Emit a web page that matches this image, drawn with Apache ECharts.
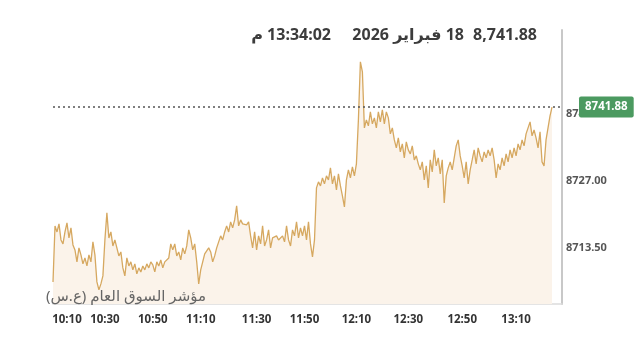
<!DOCTYPE html>
<html>
<head>
<meta charset="utf-8">
<script src="https://cdn.jsdelivr.net/npm/echarts@6/dist/echarts.min.js"></script>
<style>
html,body{margin:0;padding:0;background:#fff;}
#c{width:640px;height:349px;}
</style>
</head>
<body>
<div id="c"></div>
<script>
// ---- data ----
const times = [
"10:03","10:04","10:05","10:06","10:07","10:08","10:09",
"10:10","10:11","10:12","10:13","10:14","10:15","10:16","10:17","10:18","10:20","10:21","10:22","10:23","10:24","10:25","10:26","10:27","10:28","10:29",
"10:30","10:31","10:32","10:33","10:33","10:34","10:35","10:36","10:37","10:38","10:38","10:39","10:40","10:41","10:42","10:43","10:43","10:44","10:45","10:46","10:47","10:48","10:48","10:49",
"10:50","10:51","10:52","10:52","10:53","10:54","10:55","10:56","10:57","10:57","10:58","10:59","11:00","11:01","11:02","11:02","11:03","11:04","11:05","11:06","11:07","11:07","11:08","11:09",
"11:10","11:11","11:11","11:12","11:13","11:13","11:14","11:15","11:15","11:16","11:17","11:18","11:18","11:19","11:20","11:21","11:21","11:22","11:23","11:24","11:24","11:25","11:26","11:26","11:27","11:28","11:28","11:29",
"11:30","11:31","11:32","11:33","11:33","11:34","11:35","11:36","11:37","11:38","11:38","11:39","11:40","11:41","11:42","11:43","11:43","11:44","11:45","11:46","11:47","11:48","11:48","11:49",
"11:50","11:51","11:51","11:52","11:53","11:54","11:54","11:55","11:56","11:57","11:57","11:58","11:59","12:00","12:00","12:01","12:02","12:03","12:03","12:04","12:05","12:06","12:06","12:07","12:08","12:09",
"12:10","12:11","12:11","12:12","12:13","12:14","12:14","12:15","12:16","12:17","12:17","12:18","12:19","12:20","12:20","12:21","12:22","12:23","12:23","12:24","12:25","12:26","12:26","12:27","12:28","12:29",
"12:30","12:31","12:31","12:32","12:33","12:33","12:34","12:35","12:36","12:36","12:37","12:38","12:39","12:39","12:40","12:41","12:42","12:42","12:43","12:44","12:45","12:45","12:46","12:47","12:48","12:48","12:49",
"12:50","12:51","12:51","12:52","12:53","12:53","12:54","12:55","12:56","12:56","12:57","12:58","12:59","12:59","13:00","13:01","13:02","13:02","13:03","13:04","13:05","13:05","13:06","13:07","13:08","13:08","13:09",
"13:10","13:11","13:12","13:14","13:15","13:16","13:18","13:19","13:20","13:21","13:23","13:24","13:25","13:27","13:28","13:29","13:31","13:32","13:34",
"","","","",""
];

const values = [
8706.65,8717.93,8716.72,8718.34,8715.11,8714.31,8716.72,8718.54,8715.51,8717.53,
8714.10,8713.10,8710.68,8713.50,8712.09,8710.28,8711.48,8709.87,8712.09,8710.68,
8714.71,8712.09,8706.65,8705.04,8706.25,8707.86,8715.11,8720.55,8715.51,8716.72,
8713.90,8715.11,8713.50,8711.89,8712.69,8709.47,8707.86,8711.48,8709.87,8710.68,
8709.07,8710.28,8708.26,8709.47,8708.66,8709.87,8709.07,8710.28,8709.47,8710.68,
8710.07,8708.66,8710.68,8709.87,8711.08,8709.47,8710.68,8710.28,8711.48,8714.31,
8713.10,8714.31,8711.89,8712.69,8711.08,8713.50,8712.29,8713.90,8717.13,8715.51,
8713.10,8714.31,8710.68,8706.25,8709.07,8710.68,8712.29,8711.89,8713.50,8712.69,
8710.68,8711.89,8713.50,8714.71,8715.92,8715.11,8716.72,8717.93,8716.72,8718.74,
8717.53,8719.14,8721.96,8717.93,8719.14,8718.34,8718.74,8718.13,8718.74,8715.92,
8713.50,8716.72,
8713.10,8715.92,8714.31,8717.93,8713.90,8715.11,8717.13,8713.50,8715.51,8715.11,
8715.92,8715.11,8715.51,8715.92,8714.71,8717.93,8715.11,8713.90,8717.13,8715.92,
8718.74,8715.51,8717.53,8715.92,8717.93,8715.11,8718.74,8714.31,8711.69,8715.11,
8725.59,8726.80,8725.99,8727.60,8726.40,8728.01,8727.20,8729.62,8726.40,8728.01,
8725.19,8728.41,8725.99,8723.98,8721.76,8727.20,8729.22,8727.60,8729.82,8728.01,
8730.43,
8739.29,8750.98,8748.96,8737.68,8739.29,8738.08,8740.90,8738.49,8739.69,8737.68,
8740.90,8738.89,8741.31,8738.49,8740.90,8739.69,8736.47,8737.68,8735.26,8733.65,
8735.66,8732.84,8734.46,8731.63,8734.86,8733.25,8732.44,8734.05,8731.23,8732.04,
8730.43,8729.22,8730.83,8727.20,8730.02,8725.59,8731.23,8728.81,8733.25,8730.02,
8731.63,8728.41,8731.23,8722.57,8728.01,8729.62,8730.83,8729.22,8731.63,8734.05,
8735.26,8732.04,8730.02,8727.60,8730.83,8726.40,8729.22,8731.23,8733.25,8730.43,
8733.65,8732.04,8730.83,8732.84,8731.63,8733.25,8732.04,8733.65,8731.23,8727.60,
8730.43,8729.22,8731.63,8730.02,8732.44,8730.83,8733.25,8731.63,8733.65,8732.04,
8734.46,8733.25,8735.26,8734.05,8736.47,8736.87,8738.89,8736.07,8737.28,8735.66,
8733.65,8736.87,8730.83,8730.02,8735.26,8737.68,8740.10,8741.88
];

const xTickLabels = ["10:10","10:30","10:50","11:10","11:30","11:50","12:10","12:30","12:50","13:10"];
const yTickLabels = [8713.5, 8727.0, 8740.5];
const lastValue = 8741.88;
const titleValue = "8,741.88";
const titleDate = "18 فبراير 2026";
const titleTime = "13:34:02 م";
const seriesName = "مؤشر السوق العام (ع.س)";

// ---- chart ----
const RLE = "\u202B", PDF = "\u202C";
const FONT = "'Noto Sans', 'Open Sans', 'DejaVu Sans', sans-serif";
const chart = echarts.init(document.getElementById('c'), null, {renderer: 'canvas'});

chart.setOption({
  animation: false,
  backgroundColor: '#ffffff',
  textStyle: {fontFamily: FONT},
  grid: {left: 53, right: 78, top: 30, bottom: 45, containLabel: false},
  xAxis: {
    type: 'category',
    data: times,
    boundaryGap: false,
    axisLine: {show: true, lineStyle: {color: '#dcdcdc', width: 1.5}},
    axisTick: {show: false},
    splitLine: {show: false},
    axisLabel: {
      color: '#333333',
      fontWeight: 'bold',
      fontSize: 11.5,
      fontFamily: FONT,
      margin: 10,
      interval: function (idx, val) {
        return xTickLabels.indexOf(val) >= 0 && (idx === 0 || times[idx - 1] !== val);
      }
    }
  },
  yAxis: {
    type: 'value',
    position: 'right',
    min: 8702.2,
    max: 8757.4,
    scale: true,
    splitLine: {show: false},
    axisTick: {show: false},
    axisLine: {show: true, lineStyle: {color: '#c8c8c8', width: 2}},
    axisLabel: {
      customValues: yTickLabels,
      formatter: function (v) { return v.toFixed(2); },
      color: '#555555',
      fontWeight: 'bold',
      fontSize: 11,
      fontFamily: FONT,
      margin: 4
    }
  },
  series: [{
    type: 'line',
    name: seriesName,
    data: values,
    symbol: 'none',
    lineStyle: {color: '#d6a860', width: 1.3},
    areaStyle: {color: '#fbf3ea', opacity: 1},
    markLine: {
      silent: true,
      symbol: ['none', 'none'],
      data: [{yAxis: lastValue}],
      lineStyle: {color: '#555555', type: [2, 3], width: 1.5},
      label: {
        show: true,
        position: 'end',
        distance: 17,
        formatter: function () { return lastValue.toFixed(2); },
        color: '#ffffff',
        fontWeight: 'bold',
        fontSize: 11.5,
        fontFamily: FONT,
        backgroundColor: '#4b9a60',
        borderRadius: 2,
        padding: [5, 6, 4, 6]
      }
    }
  }],
  graphic: [
    {type: 'text', z: 100, right: 640 - 537, top: 27, style: {text: titleValue, font: "bold 16px " + FONT, fill: '#3c3c3c', textAlign: 'right'}},
    {type: 'text', z: 100, right: 640 - 464, top: 27, style: {text: RLE + titleDate + PDF, font: "bold 16px " + FONT, fill: '#3c3c3c', textAlign: 'right'}},
    {type: 'text', z: 100, right: 640 - 331, top: 27, style: {text: RLE + titleTime + PDF, font: "bold 16px " + FONT, fill: '#3c3c3c', textAlign: 'right'}},
    {type: 'text', z: 100, right: 640 - 206, top: 289, style: {text: RLE + seriesName + PDF, font: "15px " + FONT, fill: '#666666', textAlign: 'right'}}
  ]
});
</script>
</body>
</html>
